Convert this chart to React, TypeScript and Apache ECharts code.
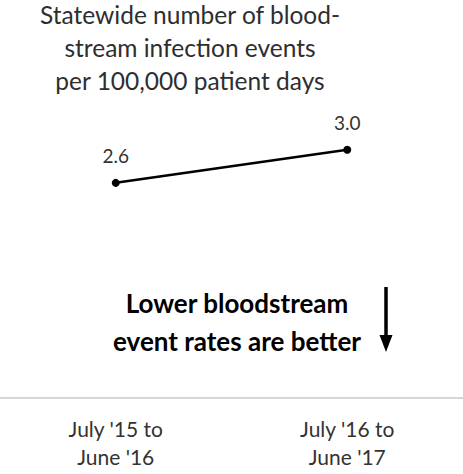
import React, { useEffect, useRef } from "react";
import * as echarts from "echarts";

const categories = ["July '15 to\nJune '16", "July '16 to\nJune '17"];
const values = [2.6, 3.0];
const titleLines = ["Statewide number of blood-", "stream infection events", "per 100,000 patient days"];
const noteLines = ["Lower bloodstream", "event rates are better"];

const FONT = "Lato, 'Open Sans', sans-serif";

export default function App() {
  const ref = useRef<HTMLDivElement>(null);
  useEffect(() => {
    document.body.style.margin = "0";
    const chart = echarts.init(ref.current!, undefined, { renderer: "svg" });
    chart.setOption({
      animation: false,
      backgroundColor: "#ffffff",
      grid: { left: 0, right: 0, top: 67, bottom: 76 },
      xAxis: {
        type: "category",
        data: categories,
        boundaryGap: true,
        axisLine: { show: true, lineStyle: { color: "#c8c8c8", width: 1.5 } },
        axisTick: { show: false },
        axisLabel: {
          margin: 16,
          fontFamily: FONT,
          fontSize: 21,
          color: "#333333",
          lineHeight: 28,
        },
      },
      yAxis: {
        type: "value",
        min: 0,
        max: 4,
        show: false,
        splitLine: { show: false },
      },
      series: [
        {
          type: "line",
          data: values,
          symbol: "circle",
          symbolSize: 8,
          lineStyle: { color: "#000000", width: 2.5 },
          itemStyle: { color: "#000000" },
          label: {
            show: true,
            position: "top",
            distance: 14,
            formatter: (p: any) => p.value.toFixed(1),
            fontFamily: FONT,
            fontSize: 19,
            color: "#333333",
          },
        },
      ],
      graphic: [
        {
          type: "text",
          x: 190,
          y: -2,
          style: {
            text: titleLines.join("\n"),
            textAlign: "center",
            font: `24.5px ${FONT}`,
            lineHeight: 33,
            fill: "#2e2e2e",
          },
        },
        {
          type: "text",
          x: 237,
          y: 284,
          style: {
            text: noteLines.join("\n"),
            textAlign: "center",
            font: `bold 26px ${FONT}`,
            lineHeight: 38,
            fill: "#000000",
          },
        },
        {
          type: "line",
          shape: { x1: 386, y1: 287, x2: 386, y2: 338 },
          style: { stroke: "#000000", lineWidth: 3.5 },
        },
        {
          type: "polygon",
          shape: { points: [[379.5, 335], [392.5, 335], [386, 352]] },
          style: { fill: "#000000" },
        },
      ],
    });
    return () => chart.dispose();
  }, []);
  return <div ref={ref} style={{ width: 463, height: 474 }} />;
}
